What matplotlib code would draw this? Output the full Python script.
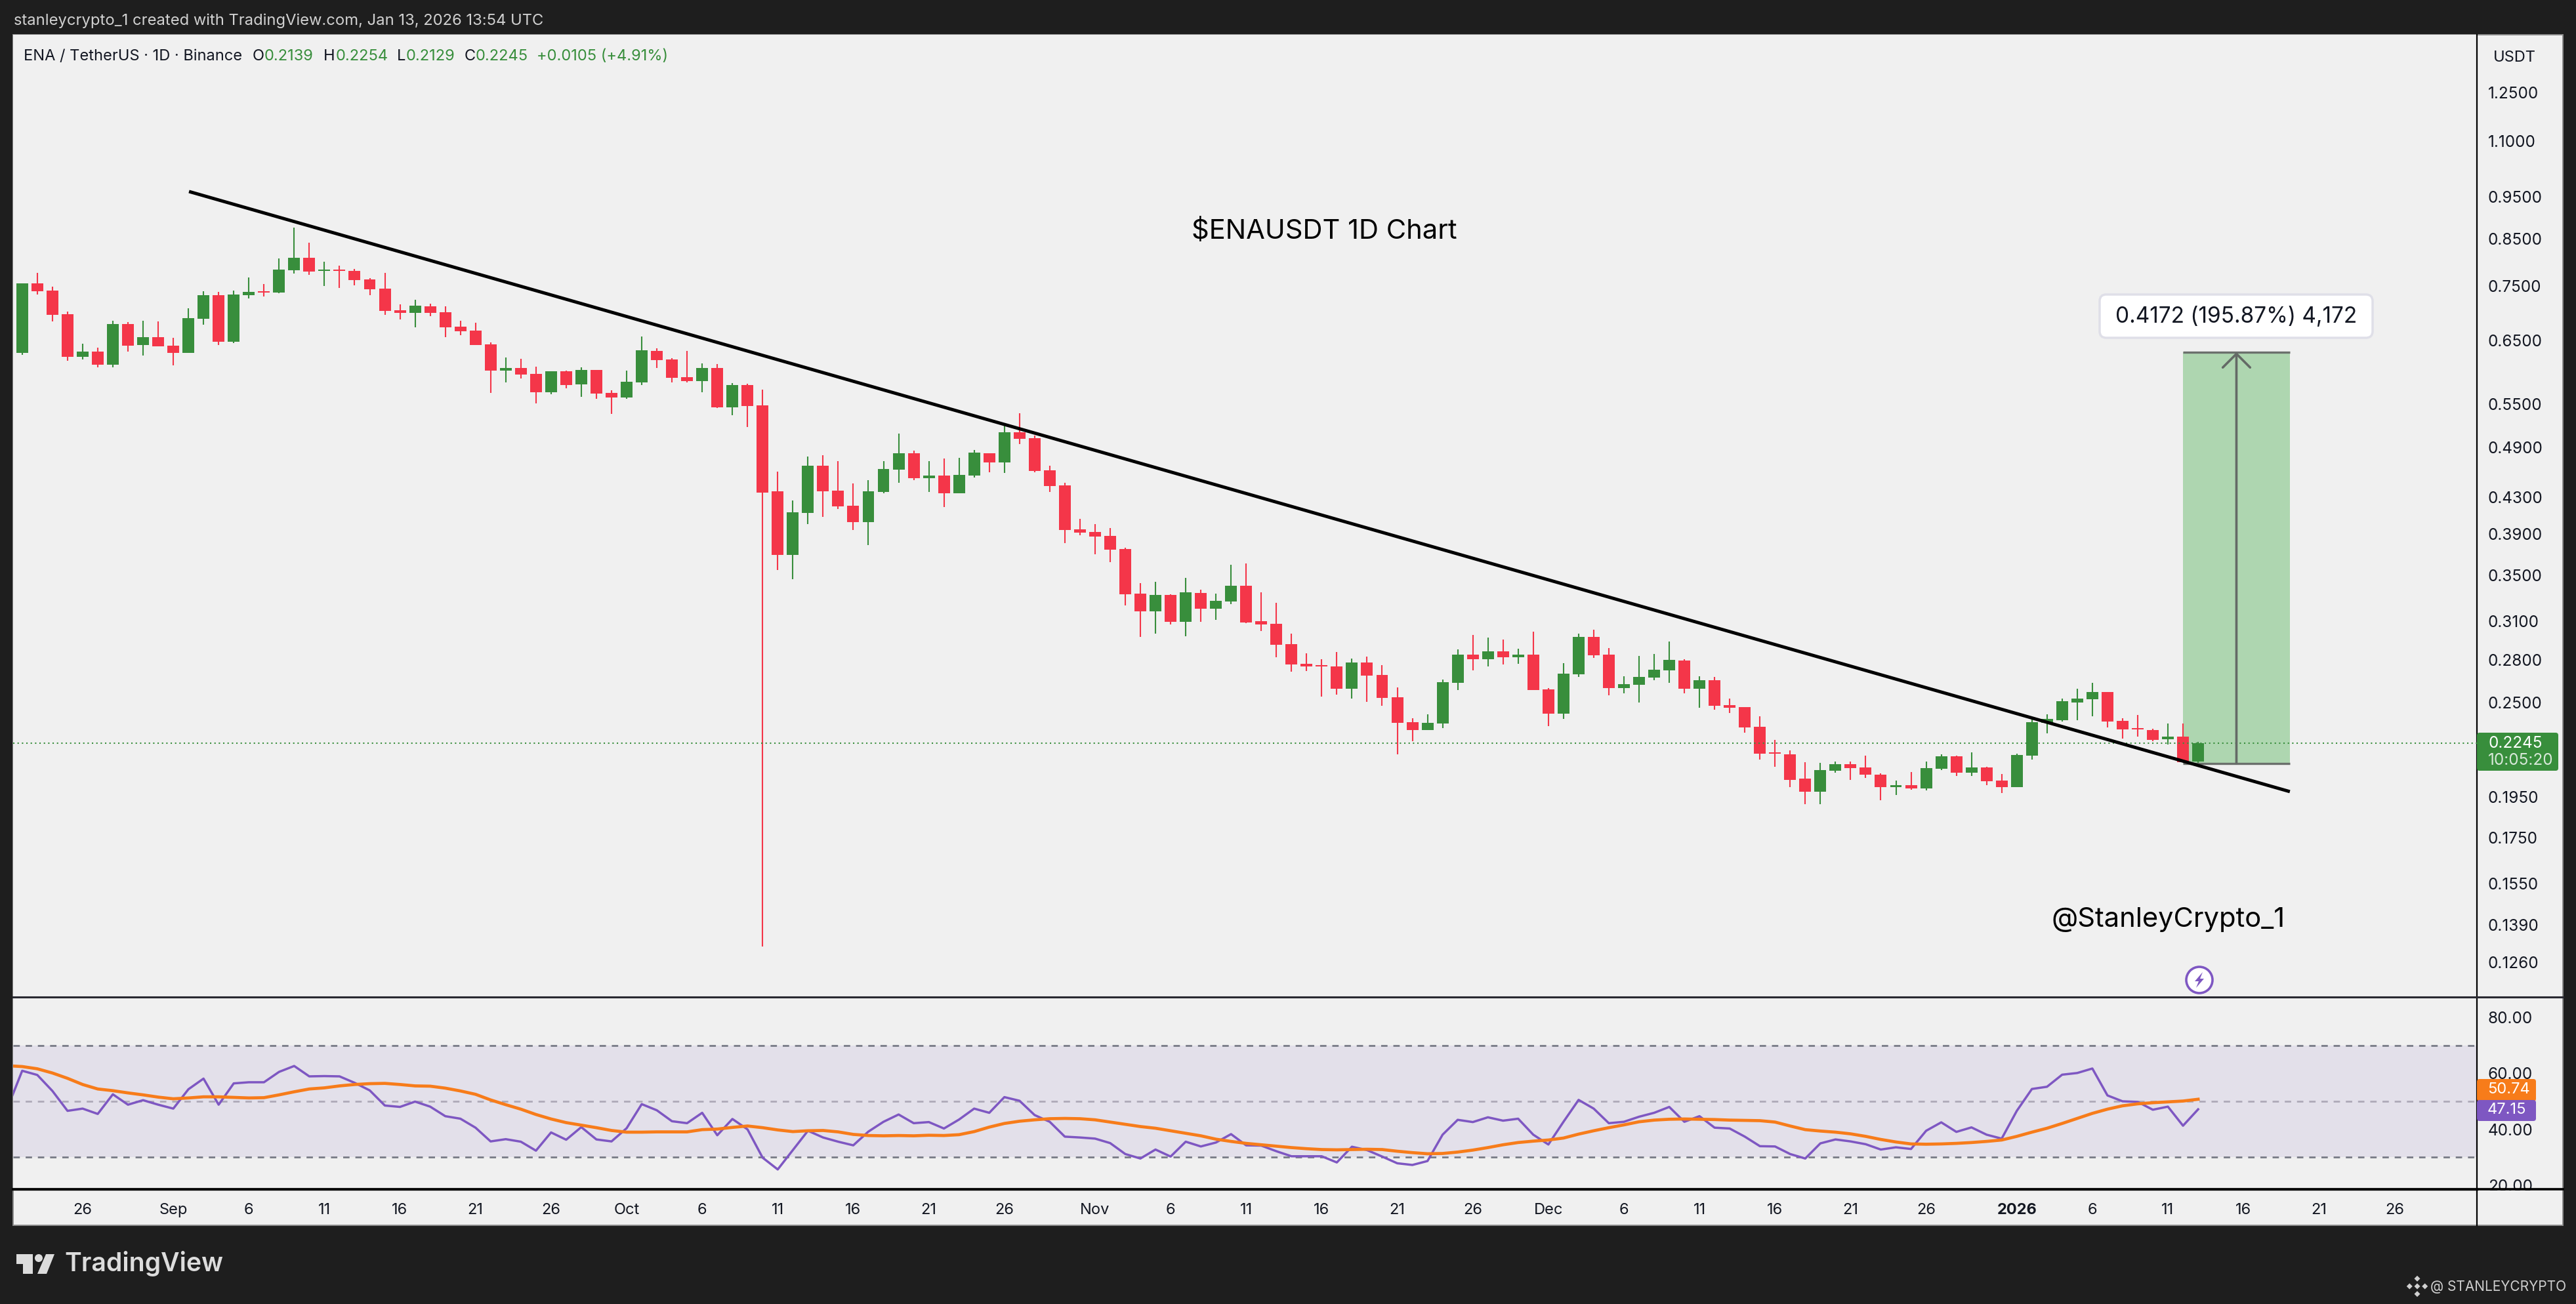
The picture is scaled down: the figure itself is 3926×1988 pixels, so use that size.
#!/usr/bin/python
# -*- coding: UTF-8 -*-
import matplotlib
matplotlib.use("Agg")
import matplotlib.pyplot as plt
from matplotlib.patches import Rectangle, FancyBboxPatch, Polygon, Circle
import numpy as np
import pandas as pd

plt.rcParams['font.family'] = ['Inter', 'DejaVu Sans']

first_day = "2025-08-22"

opens = [
    .6292, .7559, .7417, .6968, .6227, .6307, .6099, .6790, .6424, .6559,
    .6413, .6292, .6884, .7327, .6480, .7327, .7404, .7378, .7825, .8086,
    .7811, .7838, .7811, .7638, .7455, .7040, .6992, .7114, .7004, .6743,
    .6674, .6435, .6005, .6047, .5953, .5672, .5994, .5791, .6015, .5662,
    .5593, .5820, .6326, .6184, .5902, .5841, .6047, .5451, .5781, .5480,
    .4368, .3692, .4125, .4672, .4375, .4205, .4026, .4360, .4624, .4829,
    .4522, .4553, .4345, .4553, .4829, .4713, .5104, .5024, .4616, .4436,
    .3951, .3923, .3882, .3750, .3334, .3182, .3322, .3095, .3339, .3204,
    .3266, .3404, .3100, .3079, .2918, .2770, .2761, .2751, .2595, .2780,
    .2691, .2537, .2375, .2327, .2367, .2636, .2839, .2805, .2863, .2819,
    .2839, .2590, .2430, .2695, .2974, .2839, .2600, .2622, .2672, .2723,
    .2795, .2595, .2654, .2485, .2472, .2347, .2193, .2182, .2047, .1975,
    .2090, .2127, .2108, .2068, .1999, .2012, .1992, .2101, .2171, .2079,
    .2108, .2037, .1999, .2175, .2371, .2388, .2503, .2524, .2572, .2383,
    .2339, .2327, .2271, .2287, .2139,
]
closes = [
    .7560, .7404, .6956, .6227, .6307, .6099, .6790, .6413, .6559, .6402,
    .6292, .6896, .7327, .6480, .7340, .7391, .7378, .7838, .8086, .7798,
    .7838, .7811, .7625, .7442, .7027, .6992, .7126, .6992, .6732, .6662,
    .6424, .6005, .6047, .5943, .5672, .5994, .5781, .6015, .5652, .5593,
    .5830, .6329, .6174, .5892, .5841, .6047, .5451, .5781, .5470, .4352,
    .3692, .4132, .4672, .4368, .4198, .4026, .4368, .4632, .4829, .4522,
    .4553, .4345, .4561, .4837, .4713, .5104, .5016, .4608, .4428, .3943,
    .3916, .3875, .3744, .3328, .3182, .3322, .3095, .3345, .3204, .3271,
    .3404, .3089, .3073, .2913, .2765, .2751, .2751, .2595, .2780, .2686,
    .2533, .2371, .2327, .2371, .2640, .2839, .2805, .2863, .2819, .2839,
    .2586, .2430, .2700, .2974, .2834, .2600, .2627, .2677, .2727, .2800,
    .2595, .2654, .2480, .2467, .2343, .2186, .2186, .2040, .1975, .2094,
    .2127, .2104, .2068, .1999, .2012, .1992, .2104, .2171, .2079, .2108,
    .2033, .1999, .2178, .2375, .2393, .2511, .2528, .2572, .2379, .2331,
    .2331, .2267, .2287, .2138, .2245,
]
highs = [
    .7560, .7771, .7494, .7016, .6447, .6380, .6849, .6825, .6849, .6837,
    .6548, .7077, .7404, .7391, .7417, .7677, .7546, .8072, .8756, .8415,
    .8003, .7920, .7852, .7664, .7771, .7151, .7239, .7164, .7114, .6849,
    .6814, .6469, .6216, .6195, .6068, .5994, .6005, .6057, .6015, .5701,
    .6005, .6570, .6369, .6206, .6326, .6121, .6110, .5811, .5801, .5711,
    .4600, .4263, .4787, .4804, .4729, .4460, .4498, .4729, .5086, .4862,
    .4729, .4762, .4771, .4871, .4829, .5193, .5366, .5060, .4672, .4467,
    .4061, .4005, .3964, .3763, .3428, .3440, .3328, .3475, .3369, .3334,
    .3598, .3610, .3345, .3255, .3000, .2849, .2805, .2858, .2810, .2824,
    .2761, .2604, .2400, .2425, .2658, .2878, .2990, .2969, .2954, .2883,
    .3015, .2600, .2775, .3000, .3031, .2888, .2681, .2829, .2844, .2938,
    .2805, .2681, .2677, .2529, .2472, .2413, .2267, .2205, .2138, .2134,
    .2141, .2141, .2175, .2075, .2037, .2083, .2141, .2182, .2175, .2193,
    .2112, .2072, .2186, .2396, .2425, .2528, .2595, .2635, .2572, .2400,
    .2421, .2335, .2367, .2367, .2254,
]
lows = [
    .6259, .7340, .6837, .6163, .6184, .6057, .6057, .6307, .6249, .6402,
    .6089, .6292, .6778, .6424, .6458, .7264, .7302, .7365, .7758, .7731,
    .7507, .7468, .7520, .7327, .6956, .6873, .6732, .6932, .6559, .6594,
    .6424, .5662, .5820, .5881, .5507, .5642, .5731, .5603, .5574, .5357,
    .5574, .5781, .6047, .5821, .5821, .5672, .5441, .5338, .5175, .1313,
    .3548, .3463, .4005, .4082, .4168, .3943, .3789, .4345, .4467, .4498,
    .4360, .4190, .4345, .4530, .4592, .4584, .4946, .4592, .4360, .3807,
    .3889, .3699, .3623, .3232, .2974, .3000, .3073, .2979, .3095, .3111,
    .3243, .3084, .3021, .2819, .2714, .2718, .2541, .2555, .2529, .2507,
    .2480, .2182, .2259, .2327, .2339, .2586, .2723, .2751, .2765, .2770,
    .2586, .2348, .2394, .2677, .2815, .2550, .2564, .2502, .2654, .2636,
    .2564, .2467, .2455, .2434, .2311, .2152, .2112, .2002, .1914, .1911,
    .2079, .2040, .2051, .1931, .1958, .1988, .1985, .2094, .2061, .2061,
    .2012, .1971, .1999, .2152, .2306, .2379, .2388, .2413, .2343, .2275,
    .2287, .2259, .2240, .2138, .2129,
]

# rsi has one more day on the left than the candles
rsi = [
    47.3, 60.9, 59.4, 53.7, 46.6, 47.4, 45.5, 52.5, 48.8, 50.4, 48.8, 47.4,
    54.3, 58.1, 48.8, 56.4, 56.8, 56.8, 60.5, 62.6, 58.9, 59.0, 58.9, 56.6,
    53.9, 48.5, 48.0, 49.9, 48.1, 44.7, 43.8, 40.6, 35.7, 36.5, 35.6, 32.4,
    38.9, 36.3, 40.8, 36.4, 35.7, 40.4, 49.0, 46.8, 42.9, 42.2, 45.9, 37.9,
    43.7, 40.0, 29.9, 25.7, 32.6, 39.5, 37.1, 35.6,
    34.3, 39.2, 42.7, 45.3, 42.2, 42.6, 40.3, 43.5, 47.4, 45.9, 51.5, 50.2,
    45.1, 42.7, 37.4, 37.1, 36.7, 35.1, 31.2, 29.6, 32.8, 30.3, 35.6, 33.9,
    35.3, 38.3, 34.3, 34.2, 32.2, 30.4, 30.4, 30.4, 28.2, 33.8, 32.6, 30.3,
    27.9, 27.3, 28.7, 38.1, 43.4, 42.6, 44.3, 43.1, 43.8, 38.1, 34.6, 42.7,
    50.5, 47.4, 42.2, 42.7, 44.5, 45.9, 48.0, 42.7, 44.7,
    40.6, 40.3, 37.4, 34.0, 33.9, 31.2, 29.6, 35.0, 36.4, 35.7, 34.7, 32.8,
    33.6, 33.0, 39.5, 42.5, 39.1, 40.7, 38.1, 36.7, 46.6, 54.4, 55.2, 59.5,
    60.1, 61.7, 52.1, 50.0, 49.8, 47.0, 48.1, 41.3, 47.15,
]
rsi_ma = [
    62.7, 62.4, 61.6, 60.1, 58.2, 56.0, 54.4, 53.8, 53.0, 52.3, 51.5, 50.9,
    51.2, 51.6, 51.6, 51.4, 51.2, 51.3, 52.3, 53.4, 54.4, 54.8, 55.5, 56.0,
    56.3, 56.4, 56.0, 55.5, 55.4, 54.7, 53.7, 52.5, 50.5, 48.8, 47.2, 45.3,
    43.7, 42.4, 41.5, 40.6, 39.6, 39.0, 39.0, 39.1, 39.1, 39.1, 39.9, 40.1,
    40.7, 41.2, 40.6, 39.8, 39.2, 39.5, 39.6, 39.1,
    38.2, 37.8, 37.7, 37.8, 37.7, 37.9, 37.8, 38.1, 39.2, 40.8, 42.1, 42.9,
    43.4, 43.8, 43.9, 43.8, 43.4, 42.6, 41.8, 41.0, 40.4, 39.5, 38.6, 37.7,
    36.5, 35.7, 35.0, 34.5, 34.0, 33.5, 33.1, 32.8, 32.7, 32.8, 32.9, 32.8,
    32.2, 31.7, 31.3, 31.4, 31.9, 32.6, 33.5, 34.5, 35.3, 35.8, 36.2, 36.9,
    38.3, 39.5, 40.6, 41.6, 42.7, 43.3, 43.6, 43.7, 43.6,
    43.5, 43.3, 43.2, 43.1, 42.6, 41.2, 39.9, 39.4, 39.0, 38.4, 37.5, 36.4,
    35.5, 34.8, 34.7, 34.8, 35.0, 35.3, 35.7, 36.2, 37.5, 39.0, 40.4, 42.1,
    43.9, 45.7, 47.2, 48.4, 49.1, 49.5, 49.8, 50.1, 50.74,
]

price_ticks = [1.25, 1.10, .95, .85, .75, .65, .55, .49, .43, .39, .35, .31, .28, .25,
               .195, .175, .155, .139, .126]
rsi_ticks = [80, 60, 40, 20]
date_ticks = ["2025-08-26", "2025-09-01", "2025-09-06", "2025-09-11", "2025-09-16", "2025-09-21",
              "2025-09-26", "2025-10-01", "2025-10-06", "2025-10-11", "2025-10-16", "2025-10-21",
              "2025-10-26", "2025-11-01", "2025-11-06", "2025-11-11", "2025-11-16", "2025-11-21",
              "2025-11-26", "2025-12-01", "2025-12-06", "2025-12-11", "2025-12-16", "2025-12-21",
              "2025-12-26", "2026-01-01", "2026-01-06", "2026-01-11", "2026-01-16", "2026-01-21",
              "2026-01-26"]
date_labels = ["26", "Sep", "6", "11", "16", "21", "26", "Oct", "6", "11", "16", "21", "26",
               "Nov", "6", "11", "16", "21", "26", "Dec", "6", "11", "16", "21", "26",
               "2026", "6", "11", "16", "21", "26"]

last_price = 0.2245
trend_days = [11.04, 150.07]
trend_prices = [0.9627, 0.1977]
measure_days = [143.0, 150.07]
measure_prices = [0.2130, 0.6302]

W, H = 3926, 1988
UP = '#388e3c'
DOWN = '#f43649'
PANEL = '#f0f0f0'
PURPLE = '#7e57c2'
ORANGE = '#f77c1a'

fig = plt.figure(figsize=(W / 100, H / 100), dpi=100, facecolor='#1e1e1e')


def px_axes(left, top, right, bottom):
    return fig.add_axes([left / W, 1 - bottom / H, (right - left) / W, (bottom - top) / H])


fig.add_artist(Rectangle((20 / W, 1 - 1868 / H), 3886 / W, 1815 / H, transform=fig.transFigure,
                         fc=PANEL, ec='#8c8c8c', lw=1.4, zorder=-1))

ax = px_axes(20, 53, 3775, 1520)
ax_rsi = px_axes(20, 1520, 3775, 1813)
x_left, x_right = -0.6, 162.45

# candles
o = np.array(opens)
c = np.array(closes)
days = np.arange(len(o))
colors = [UP if b >= a else DOWN for a, b in zip(o, c)]
ax.vlines(days, lows, highs, colors=colors, lw=1.5, zorder=3)
ax.bar(days, np.abs(c - o), bottom=np.minimum(o, c), width=0.78, color=colors, lw=0, zorder=4)

ax.axhline(last_price, color=UP, lw=1.5, ls=(0, (1, 2.2)), zorder=5)
ax.plot(trend_days, trend_prices, color='black', lw=3.6, solid_capstyle='butt', zorder=6)

# price range tool
ax.fill_between(measure_days, measure_prices[0], measure_prices[1], color='#aed6b0', lw=0, zorder=1)
mid = sum(measure_days) / 2
for p in measure_prices:
    ax.plot(measure_days, [p, p], color='#6b706c', lw=2.4, solid_capstyle='butt', zorder=5)
ax.annotate('', xy=(mid, measure_prices[1]), xytext=(mid, measure_prices[0]), zorder=5,
            arrowprops=dict(arrowstyle='->,head_length=15,head_width=15', color='#646a66', lw=2.6,
                            shrinkA=0, shrinkB=0, mutation_scale=1))

ax.set_yscale('log')
ax.set_ylim(0.1150, 1.4557)
ax.set_xlim(x_left, x_right)
ax.set_facecolor(PANEL)
ax.set_xticks([])
ax.yaxis.tick_right()
ax.set_yticks(price_ticks)
ax.set_yticklabels(["%.4f" % t for t in price_ticks])
ax.minorticks_off()
ax.tick_params(axis='y', length=0, pad=12, labelsize=17.5, labelcolor='#131722')
for name in ['top', 'left', 'bottom']:
    ax.spines[name].set_visible(False)
ax.spines['right'].set_linewidth(1.6)
ax.spines['right'].set_color('black')

# rsi pane
rsi_days = np.arange(-1, len(rsi) - 1)
ax_rsi.axhspan(30, 70, color='#e3e0ea', lw=0, zorder=1)
for lvl, col in [(70, '#787b86'), (50, '#aeaab8'), (30, '#787b86')]:
    ax_rsi.axhline(lvl, color=col, lw=2, ls=(0, (3.5, 3.2)), zorder=2)
ax_rsi.plot(rsi_days, rsi, color=PURPLE, lw=2.5, zorder=3)
ax_rsi.plot(rsi_days, rsi_ma, color=ORANGE, lw=3.4, zorder=4)
ax_rsi.set_xlim(x_left, x_right)
ax_rsi.set_ylim(18.65, 87.2)
ax_rsi.set_facecolor(PANEL)
ax_rsi.yaxis.tick_right()
ax_rsi.set_yticks(rsi_ticks)
ax_rsi.set_yticklabels(["%.2f" % t for t in rsi_ticks])
ax_rsi.tick_params(axis='y', length=0, pad=12, labelsize=17.5, labelcolor='#131722')

start = pd.Timestamp(first_day)
tick_days = [(pd.Timestamp(d) - start).days for d in date_ticks]
ax_rsi.set_xticks(tick_days)
ax_rsi.set_xticklabels(date_labels)
ax_rsi.tick_params(axis='x', length=0, pad=15, labelsize=17, labelcolor='#131722')
ax_rsi.get_xticklabels()[date_labels.index("2026")].set_fontweight('bold')
for name in ['top', 'left']:
    ax_rsi.spines[name].set_visible(False)
ax_rsi.spines['right'].set_linewidth(1.6)
ax_rsi.spines['right'].set_color('black')
ax_rsi.spines['bottom'].set_linewidth(2.4)
ax_rsi.spines['bottom'].set_color('black')

# page furniture in pixel coordinates
ov = fig.add_axes([0, 0, 1, 1], zorder=10)
ov.set_xlim(0, W)
ov.set_ylim(H, 0)
ov.axis('off')
ov.patch.set_alpha(0)

ov.add_patch(Rectangle((3777, 1815), 128, 52, fc=PANEL, lw=0))
ov.plot([20, 3906], [1520, 1520], color='#2a2a32', lw=2.2)
ov.plot([20, 3906], [1813, 1813], color='black', lw=2.6)
ov.plot([3775, 3775], [1813, 1868], color='black', lw=1.6)

ov.text(21, 32, "stanleycrypto_1 created with TradingView.com, Jan 13, 2026 13:54 UTC",
        color='#d1d1d1', fontsize=17.1, va='center')

ov.text(36, 86, "ENA / TetherUS · 1D · Binance", color='#131722', fontsize=17, va='center')
for x0, s, col in [(385, "O", '#131722'), (403, "0.2139", UP), (493, "H", '#131722'), (512, "0.2254", UP),
                   (605, "L", '#131722'), (619, "0.2129", UP), (708, "C", '#131722'), (725, "0.2245", UP),
                   (818, "+0.0105 (+4.91%)", UP)]:
    ov.text(x0, 86, s, color=col, fontsize=17, va='center')

ov.text(3832, 88, "USDT", color='#131722', fontsize=17, ha='center', va='center')
ov.text(2018, 352, "$ENAUSDT 1D Chart", color='black', fontsize=30, ha='center', va='center', parse_math=False)
ov.text(3305, 1402, "@StanleyCrypto_1", color='black', fontsize=30, ha='center', va='center')

# range label
ov.add_patch(FancyBboxPatch((3206, 455), 404, 54, boxstyle='round,pad=6,rounding_size=10',
                            fc='white', ec='#dfdfe8', lw=2.5))
ov.text(3408, 483, "0.4172 (195.87%) 4,172", color='#131722', fontsize=24, ha='center', va='center')

# price tags
ov.add_patch(FancyBboxPatch((3777, 1119), 120, 54, boxstyle='round,pad=2,rounding_size=4', fc=UP, lw=0))
ov.text(3792, 1133, "0.2245", color='white', fontsize=17.5, va='center')
ov.text(3792, 1159, "10:05:20", color='#d7e8d8', fontsize=17.5, va='center')
ov.add_patch(FancyBboxPatch((3777, 1647), 86, 30, boxstyle='round,pad=2,rounding_size=4', fc=ORANGE, lw=0))
ov.add_patch(FancyBboxPatch((3777, 1679), 86, 28, boxstyle='round,pad=2,rounding_size=4', fc=PURPLE, lw=0))
ov.text(3791, 1661, "50.74", color='white', fontsize=17, va='center')
ov.text(3791, 1692, "47.15", color='white', fontsize=17, va='center')

# lightning badge
ov.add_patch(Circle((3352, 1494), 20, fc='white', ec=PURPLE, lw=2.6))
ov.add_patch(Polygon([(3357, 1482), (3345, 1496), (3351, 1496), (3347, 1506), (3359, 1492), (3353, 1492)],
                     fc=PURPLE, lw=0))

# tradingview mark
LOGO = '#dcdcdc'
ov.add_patch(Polygon([(25, 1912), (50, 1912), (50, 1942), (35, 1942), (35, 1927), (25, 1927)], fc=LOGO, lw=0))
ov.add_patch(Circle((59, 1918), 6, fc=LOGO, lw=0))
ov.add_patch(Polygon([(70, 1912), (83, 1912), (71, 1942), (57, 1942)], fc=LOGO, lw=0))
ov.text(98, 1926, "TradingView", color=LOGO, fontsize=28.2, fontweight='semibold', va='center')

# binance mark and handle
for dx, dy in [(0, -9), (-9, 0), (9, 0), (0, 9), (0, 0)]:
    cx, cy = 3684 + dx * 1.3, 1961 + dy * 1.3
    r = 4.5
    ov.add_patch(Polygon([(cx, cy - r), (cx + r, cy), (cx, cy + r), (cx - r, cy)], fc='#d0d0d0', lw=0))
ov.text(3704, 1962, "@ STANLEYCRYPTO", color='#cfcfcf', fontsize=15, va='center')

fig.savefig("out.png", dpi=100, facecolor=fig.get_facecolor())
